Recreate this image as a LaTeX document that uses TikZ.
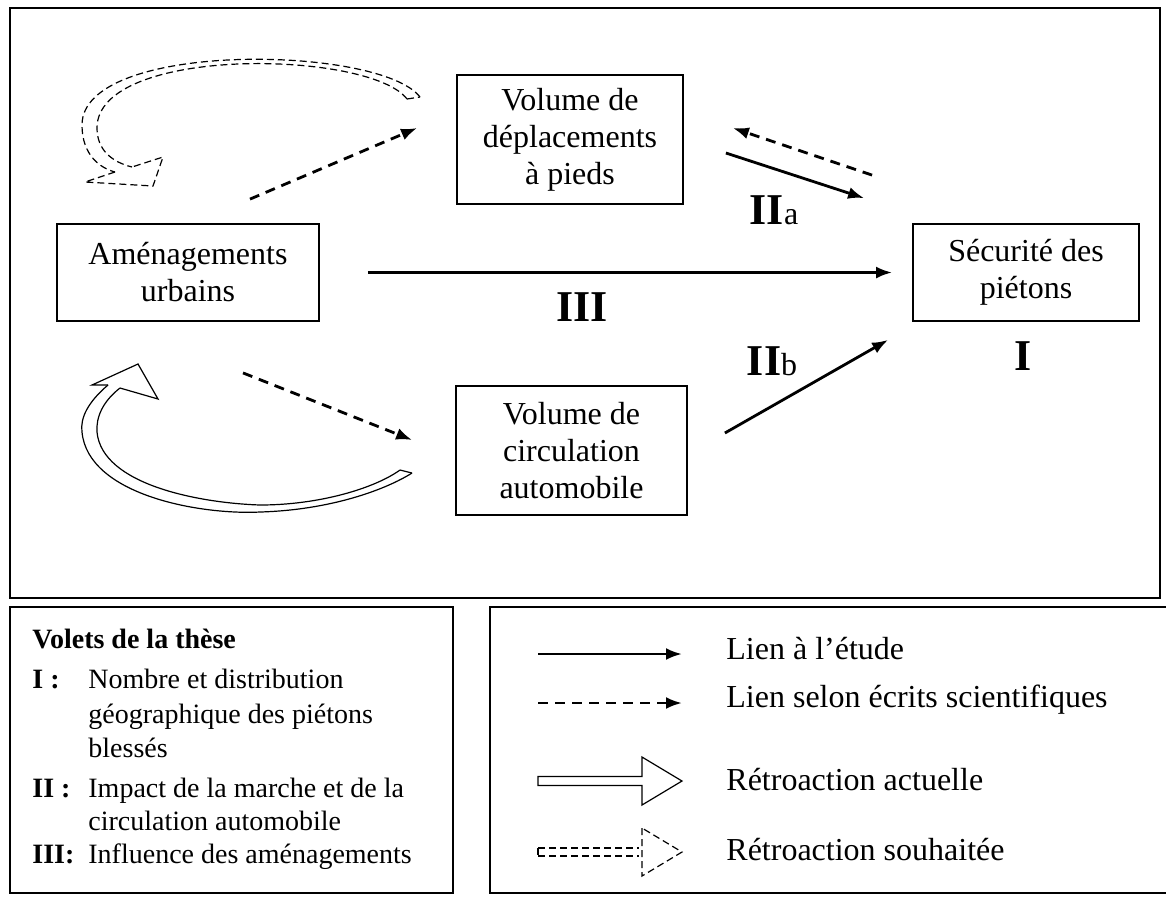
\documentclass[tikz,border=0pt]{standalone}
\usepackage{fontspec}
\setmainfont{Liberation Serif}
\usetikzlibrary{arrows.meta}

\newcommand{\boxfont}{\fontsize{16}{18.5}\selectfont}
\newcommand{\numfont}{\fontsize{22}{24}\selectfont\bfseries}
\newcommand{\legfont}{\fontsize{14}{17}\selectfont}

\tikzset{
	box/.style = {draw, line width = 0.9pt, align = center, inner sep = 0pt, font = \boxfont},
	study/.style = {line width = 1.4pt, -{Latex[length = 8pt, width = 6pt]}},
	litt/.style = {study, dash pattern = on 5pt off 3.5pt},
	hollow/.style = {line width = 0.6pt, line join = miter},
	wished/.style = {hollow, dash pattern = on 3.5pt off 2pt},
	legtext/.style = {anchor = base west, font = \legfont, inner sep = 0pt}
}

\begin{document}
\begin{tikzpicture}[x = 0.5pt, y = -0.5pt]

\useasboundingbox (0, 0) rectangle (1166, 896);

\draw[line width = 0.9pt] (10, 8) rectangle (1160, 598);

\node[box, minimum width = 113pt, minimum height = 64.5pt] (vold) at (570, 139.5) {Volume de\\d\'eplacements\\\`a pieds};
\node[box, minimum width = 131pt, minimum height = 48.5pt] (amen) at (188, 272.5) {Am\'enagements\\urbains};
\node[box, minimum width = 113pt, minimum height = 48.5pt] (secu) at (1026, 272.5) {S\'ecurit\'e des\\pi\'etons};
\node[box, minimum width = 115.5pt, minimum height = 64.5pt] (volc) at (571.5, 450.5) {Volume de\\circulation\\automobile};

\draw[study, shorten < = 24pt, shorten > = 10pt] (amen.east) -- (secu.west);
\draw[litt] ([shift = {(62, -24)}]amen.north) -- ([shift = {(-39, -11.5)}]vold.west);
\draw[litt] ([shift = {(55, 51)}]amen.south) -- ([shift = {(-43, -10.5)}]volc.west);
\draw[study] ([shift = {(42, 13.5)}]vold.east) -- ([shift = {(-48, -25)}]secu.north west);
\draw[litt] ([shift = {(-40, -48)}]secu.north west) -- ([shift = {(49, -11.5)}]vold.east);
\draw[study] ([shift = {(37, -17.5)}]volc.east) -- ([shift = {(-24, 18)}]secu.south west);

\node[font = \numfont] (n3) at (582, 307) {III};
\node[font = \numfont] (n2a) at (774, 210) {II{\boxfont\mdseries a}};
\node[font = \numfont] (n2b) at (772, 361) {II{\boxfont\mdseries b}};
\node[font = \numfont] (n1) at (1023, 356) {I};

\draw[wished] (420, 97) .. controls (380, 45) and (82, 40) .. (82, 125) .. controls (82, 155) and (100, 168) .. (115, 172);
\draw[wished] (407, 99) .. controls (370, 50) and (97, 45) .. (97, 128) .. controls (97, 150) and (112, 162) .. (132, 167);
\draw[wished] (407, 99) -- (420, 97);
\draw[wished] (115, 172) -- (85, 182) -- (153, 186) -- (163, 157) -- (132, 167);

\draw[hollow] (108, 385) .. controls (88, 402) and (80, 418) .. (82, 432) .. controls (88, 495) and (200, 515) .. (260, 512) .. controls (330, 510) and (385, 490) .. (412, 473);
\draw[hollow] (120, 388) .. controls (102, 402) and (96, 418) .. (97, 432) .. controls (102, 485) and (200, 503) .. (260, 505) .. controls (320, 505) and (375, 488) .. (400, 470);
\draw[hollow] (400, 470) -- (412, 473);
\draw[hollow] (108, 385) -- (92, 385) -- (138, 364) -- (158, 399) -- (120, 388);

\draw[line width = 0.9pt] (10, 607) rectangle (453, 893);
\draw[line width = 0.9pt] (1170, 607) -- (490, 607) -- (490, 893) -- (1170, 893);

\node[legtext, font = \legfont\bfseries] (volets) at (32, 648) {Volets de la th\`ese};
\node[legtext, font = \legfont\bfseries] (l1) at (32, 688) {I :};
\node[legtext, font = \legfont\bfseries] (l2) at (32, 797) {II :};
\node[legtext, font = \legfont\bfseries] (l3) at (32, 863) {III:};
\foreach \y/\t [count = \i] in {688/Nombre et distribution, 723/g\'eographique des pi\'etons, 757/bless\'es, 797/Impact de la marche et de la, 830/circulation automobile, 863/Influence des am\'enagements} {
	\node[legtext] (t\i) at (88, \y) {\t};
}

\coordinate (a1) at (538, 654);
\coordinate (a2) at (538, 703);
\draw[study] (a1) -- ++(144, 0);
\draw[litt] (a2) -- ++(144, 0);
\draw[hollow] (538, 776.5) -- (642, 776.5) -- (642, 757) -- (682, 781) -- (642, 805) -- (642, 785.5) -- (538, 785.5) -- cycle;
\draw[wished] (538, 848) -- (639, 848) (538, 856) -- (639, 856) (538, 848) -- (538, 856);
\draw[wished] (642, 828) -- (642, 876) -- (682, 852) -- cycle;

\node[legtext, font = \boxfont] (k1) at (726, 659) {Lien \`a l'\'etude};
\node[legtext, font = \boxfont] (k2) at (726, 707) {Lien selon \'ecrits scientifiques};
\node[legtext, font = \boxfont] (k3) at (726, 790) {R\'etroaction actuelle};
\node[legtext, font = \boxfont] (k4) at (726, 860) {R\'etroaction souhait\'ee};

\end{tikzpicture}
\end{document}
